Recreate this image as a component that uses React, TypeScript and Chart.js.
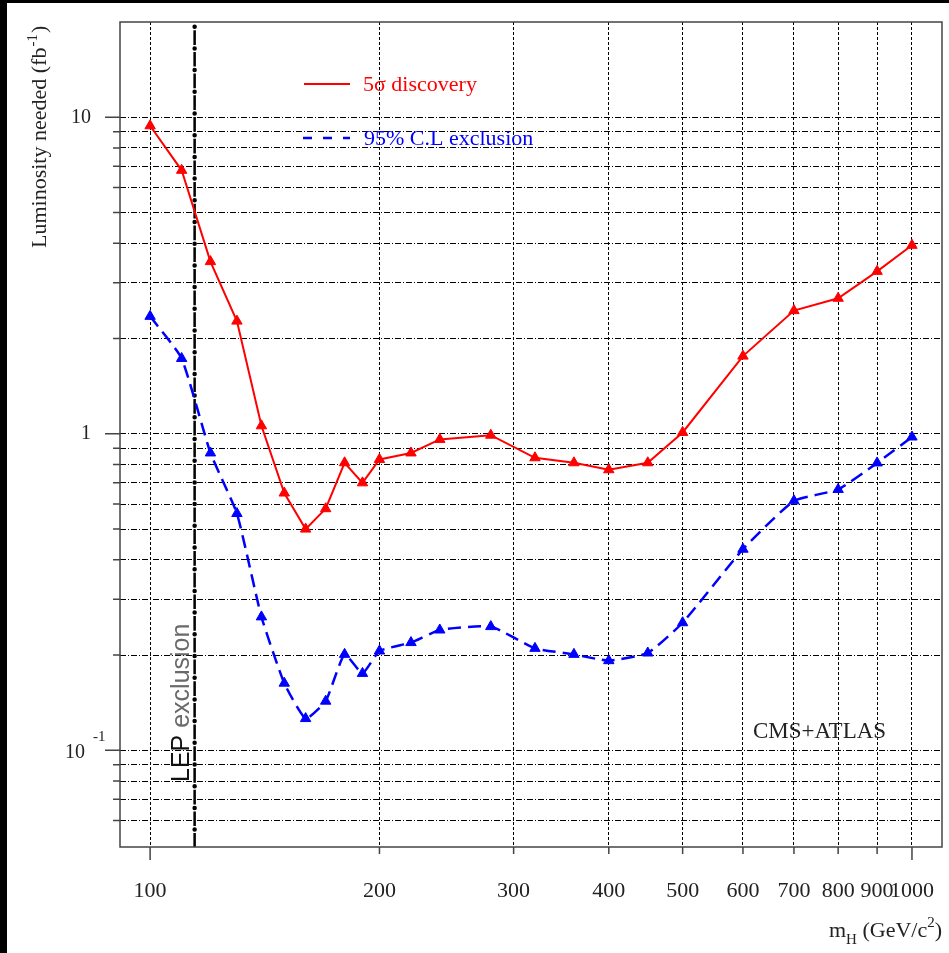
import { useEffect, useRef } from "react";
import { Chart, registerables } from "chart.js";

Chart.register(...registerables);

// Higgs mass points (GeV/c^2) and luminosity needed (fb^-1)
const massPoints = [100, 110, 120, 130, 140, 150, 160, 170, 180, 190, 200, 220, 240, 280, 320, 360, 400, 450, 500, 600, 700, 800, 900, 1000];
const discovery = [9.4, 6.8, 3.5, 2.27, 1.06, 0.65, 0.5, 0.58, 0.81, 0.7, 0.83, 0.87, 0.96, 0.99, 0.84, 0.81, 0.77, 0.81, 1.01, 1.76, 2.45, 2.68, 3.26, 3.94];
const exclusion = [2.35, 1.73, 0.87, 0.56, 0.264, 0.163, 0.126, 0.143, 0.201, 0.175, 0.206, 0.219, 0.24, 0.246, 0.21, 0.201, 0.192, 0.203, 0.253, 0.432, 0.614, 0.667, 0.809, 0.977];

const xTicks = [100, 200, 300, 400, 500, 600, 700, 800, 900, 1000];
const xMajor = [100, 1000];
const yTicks = [0.06, 0.07, 0.08, 0.09, 0.1, 0.2, 0.3, 0.4, 0.5, 0.6, 0.7, 0.8, 0.9, 1, 2, 3, 4, 5, 6, 7, 8, 9, 10];
const yMajor = [0.1, 1, 10];
const lepLimit = 114.4;

const SERIF = "'Liberation Serif', 'Times New Roman', serif";
const SANS = "'Liberation Sans', Arial, sans-serif";

const near = (a: number, b: number) => Math.abs(a - b) < 1e-9 * Math.max(1, Math.abs(b));

const decorations = {
  id: "decorations",
  beforeDraw(chart: any) {
    const { ctx, width, height } = chart;
    ctx.save();
    ctx.fillStyle = "#000";
    ctx.fillRect(0, 0, width, height);
    ctx.fillStyle = "#fff";
    ctx.fillRect(7, 3, width - 7, height - 3);
    ctx.restore();
  },
  beforeDatasetsDraw(chart: any) {
    const { ctx, chartArea: a, scales } = chart;
    // LEP exclusion limit: dash-dot line with round dots
    const lx = scales.x.getPixelForValue(lepLimit);
    const period = 21.7;
    const y0 = a.top + 4.7;
    ctx.save();
    ctx.strokeStyle = "#000";
    ctx.lineWidth = 2.5;
    ctx.setLineDash([14.7, 7]);
    ctx.lineDashOffset = 18.2;
    ctx.beginPath();
    ctx.moveTo(lx, y0);
    ctx.lineTo(lx, a.bottom);
    ctx.stroke();
    ctx.lineWidth = 4.5;
    ctx.lineCap = "round";
    ctx.setLineDash([0, period]);
    ctx.lineDashOffset = 0;
    ctx.beginPath();
    ctx.moveTo(lx, y0);
    ctx.lineTo(lx, a.bottom - 4);
    ctx.stroke();
    ctx.restore();

    ctx.save();
    ctx.translate(lx - 6, 782);
    ctx.rotate(-Math.PI / 2);
    ctx.font = `25px ${SANS}`;
    ctx.textBaseline = "alphabetic";
    ctx.fillStyle = "#111";
    ctx.fillText("LEP", 0, 0);
    const w = ctx.measureText("LEP ").width;
    ctx.fillStyle = "#6a6a6a";
    ctx.fillText("exclusion", w, 0);
    ctx.restore();
  },
  afterDraw(chart: any) {
    const { ctx, chartArea: a, scales } = chart;
    ctx.save();
    // frame
    ctx.strokeStyle = "#444";
    ctx.lineWidth = 1.5;
    ctx.setLineDash([]);
    ctx.strokeRect(a.left, a.top, a.right - a.left, a.bottom - a.top);

    // tick marks
    ctx.beginPath();
    yTicks.forEach((v) => {
      const py = scales.y.getPixelForValue(v);
      const len = yMajor.some((m) => near(m, v)) ? 15 : 7;
      ctx.moveTo(a.left - len, py);
      ctx.lineTo(a.left, py);
    });
    xTicks.forEach((v) => {
      const px = scales.x.getPixelForValue(v);
      const len = xMajor.includes(v) ? 13 : 7;
      ctx.moveTo(px, a.bottom);
      ctx.lineTo(px, a.bottom + len);
    });
    ctx.stroke();

    // 10^-1 label
    const p01 = scales.y.getPixelForValue(0.1);
    ctx.fillStyle = "#222";
    ctx.font = `20px ${SERIF}`;
    ctx.textAlign = "right";
    ctx.textBaseline = "middle";
    ctx.fillText("10", 85, p01 + 2);
    ctx.textAlign = "left";
    ctx.font = `15px ${SERIF}`;
    ctx.fillText("-1", 93, p01 - 13);

    // y title
    ctx.save();
    ctx.translate(46, 248);
    ctx.rotate(-Math.PI / 2);
    ctx.textBaseline = "alphabetic";
    ctx.textAlign = "left";
    ctx.fillStyle = "#222";
    ctx.font = `22px ${SERIF}`;
    const t1 = "Luminosity needed (fb";
    ctx.fillText(t1, 0, 0);
    let off = ctx.measureText(t1).width;
    ctx.font = `15px ${SERIF}`;
    ctx.fillText("-1", off + 1, -9);
    off += ctx.measureText("-1").width + 2;
    ctx.font = `22px ${SERIF}`;
    ctx.fillText(")", off, 0);
    ctx.restore();

    // x title
    const parts: [string, number, number][] = [
      ["m", 22, 0],
      ["H", 15, 7],
      [" (GeV/c", 22, 0],
      ["2", 15, -10],
      [")", 22, 0],
    ];
    let total = 0;
    parts.forEach(([s, size]) => {
      ctx.font = `${size}px ${SERIF}`;
      total += ctx.measureText(s).width;
    });
    let xx = a.right - total;
    ctx.textBaseline = "alphabetic";
    parts.forEach(([s, size, dy]) => {
      ctx.font = `${size}px ${SERIF}`;
      ctx.fillText(s, xx, 937 + dy);
      xx += ctx.measureText(s).width;
    });

    // legend
    ctx.lineWidth = 2;
    ctx.strokeStyle = "#ff0000";
    ctx.beginPath();
    ctx.moveTo(304, 84);
    ctx.lineTo(350, 84);
    ctx.stroke();
    ctx.strokeStyle = "#0000ff";
    ctx.lineWidth = 2.5;
    ctx.setLineDash([9, 11]);
    ctx.beginPath();
    ctx.moveTo(303, 138);
    ctx.lineTo(350, 138);
    ctx.stroke();
    ctx.setLineDash([]);
    ctx.font = `22px ${SERIF}`;
    ctx.textBaseline = "middle";
    ctx.fillStyle = "#ff0000";
    ctx.fillText("5σ discovery", 363, 85);
    ctx.fillStyle = "#0000ff";
    ctx.fillText("95% C.L exclusion", 364, 139);

    // label
    ctx.fillStyle = "#222";
    ctx.textBaseline = "alphabetic";
    ctx.font = `23px ${SERIF}`;
    ctx.fillText("CMS+ATLAS", 753, 738);
    ctx.restore();
  },
};

const noPadding = (s: any) => {
  s.paddingLeft = 0;
  s.paddingRight = 0;
  s.paddingTop = 0;
  s.paddingBottom = 0;
};

export default function App() {
  const canvasRef = useRef<HTMLCanvasElement>(null);

  useEffect(() => {
    const canvas = canvasRef.current;
    if (!canvas) return;
    const chart = new Chart(canvas, {
      type: "line",
      data: {
        datasets: [
          {
            label: "5σ discovery",
            data: massPoints.map((m, i) => ({ x: m, y: discovery[i] })),
            borderColor: "#ff0000",
            backgroundColor: "#ff0000",
            borderWidth: 2,
            pointStyle: "triangle",
            pointRadius: 6,
            pointBorderWidth: 1,
            tension: 0,
          },
          {
            label: "95% C.L exclusion",
            data: massPoints.map((m, i) => ({ x: m, y: exclusion[i] })),
            borderColor: "#0000ff",
            backgroundColor: "#0000ff",
            borderWidth: 2.5,
            borderDash: [13, 7],
            pointStyle: "triangle",
            pointRadius: 6,
            pointBorderWidth: 1,
            tension: 0.15,
          },
        ],
      },
      options: {
        responsive: false,
        animation: false,
        layout: { padding: { left: 0, top: 22, right: 7, bottom: 0 } },
        plugins: { legend: { display: false }, tooltip: { enabled: false } },
        scales: {
          x: {
            type: "logarithmic",
            min: 91.3,
            max: 1095,
            afterBuildTicks: (s: any) => {
              s.ticks = xTicks.map((v) => ({ value: v }));
            },
            afterFit: (s: any) => {
              s.height = 106;
              noPadding(s);
            },
            grid: { color: "#000", lineWidth: 1, drawTicks: false },
            border: { display: false, dash: [3, 2] },
            ticks: {
              autoSkip: false,
              maxRotation: 0,
              padding: 31,
              color: "#222",
              font: { family: SERIF, size: 22 },
              callback: (v: any) => String(v),
            },
          },
          y: {
            type: "logarithmic",
            min: 0.0495,
            max: 20,
            afterBuildTicks: (s: any) => {
              s.ticks = yTicks.map((v) => ({ value: v }));
            },
            afterFit: (s: any) => {
              s.width = 120;
              noPadding(s);
            },
            grid: { color: "#000", lineWidth: 1, drawTicks: false },
            border: { display: false, dash: [6, 2, 1, 2] },
            ticks: {
              autoSkip: false,
              padding: 29,
              color: "#222",
              font: { family: SERIF, size: 20 },
              callback: (v: any) => (near(v, 10) ? "10" : near(v, 1) ? "1" : ""),
            },
          },
        },
      },
      plugins: [decorations],
    } as any);
    return () => chart.destroy();
  }, []);

  return (
    <div style={{ position: "fixed", left: 0, top: 0, width: 949, height: 953, background: "#000" }}>
      <canvas ref={canvasRef} width={949} height={953} />
    </div>
  );
}
